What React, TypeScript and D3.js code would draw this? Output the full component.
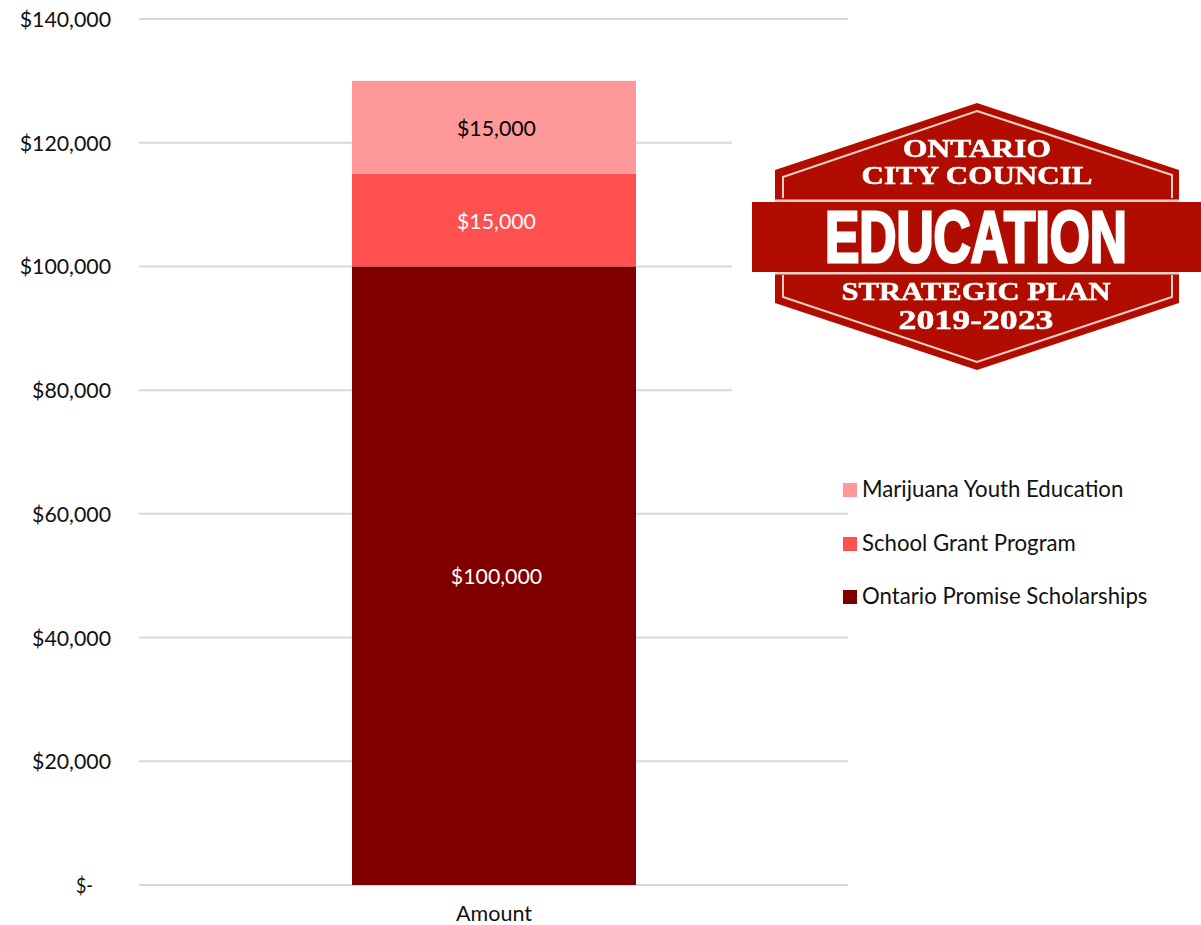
import React from 'react';
import * as d3 from 'd3';

const categories = ['Amount'];
const seriesNames = ['Ontario Promise Scholarships', 'School Grant Program', 'Marijuana Youth Education'];
const seriesValues = [100000, 15000, 15000];
const seriesColors = ['#800000', '#FF5050', '#FF9999'];
const labelColors = ['#FFFFFF', '#FFFFFF', '#000000'];
const yTicks = [0, 20000, 40000, 60000, 80000, 100000, 120000, 140000];
const legendOrder = [2, 1, 0];
const legendY = [491, 545, 598];

const FONT = 'Lato, "Open Sans", sans-serif';
const SERIF = '"Liberation Serif", serif';
const LOGO_RED = '#B01000';
const LOGO_LINE = '#F2CFC8';

const y = d3.scaleLinear().domain([0, 140000]).range([885, 19]);
const x = d3.scaleBand().domain(categories).range([139, 849]).paddingInner(0.6).paddingOuter(0.3);

const row: Record<string, number> = { Amount: 0 };
seriesNames.forEach((n, i) => { row[n] = seriesValues[i]; });
const stacked = d3.stack<Record<string, number>>().keys(seriesNames)([row]);

const fmt = d3.format(',');
const tickLabel = (v: number) => (v === 0 ? '$-' : '$' + fmt(v));

const line = d3.line();

function Logo() {
  const outer: [number, number][] = [[977, 103], [1179, 170], [1179, 303], [977, 370], [775, 303], [775, 170]];
  const inner: [number, number][] = [[977, 111], [1172, 175], [1172, 297], [977, 362], [783, 297], [783, 177]];
  const text = (s: string, cx: number, base: number, w: number, size: number) => (
    <text x={cx} y={base} textAnchor="middle" fontFamily={SERIF} fontWeight="bold" fontSize={size}
      fill="#FFFFFF" stroke="#FFFFFF" strokeWidth={0.5} textLength={w} lengthAdjust="spacingAndGlyphs">{s}</text>
  );
  return (
    <g filter="url(#soft)">
      <path d={line(outer) + 'Z'} fill={LOGO_RED} />
      <path d={line(inner) + 'Z'} fill="none" stroke={LOGO_LINE} strokeWidth={2} />
      <rect x={775} y={198} width={404} height={77} fill={LOGO_RED} />
      <rect x={775} y={199.5} width={404} height={75} fill={LOGO_LINE} />
      <rect x={752} y={202} width={449} height={70} fill={LOGO_RED} />
      {text('ONTARIO', 977, 157, 148, 26)}
      {text('CITY COUNCIL', 977, 184, 231, 26)}
      <g transform="translate(976,262) scale(0.705,1)">
        <text textAnchor="middle" fontFamily='"Liberation Sans", sans-serif' fontWeight="bold"
          fontSize={73} fill="#FFFFFF" stroke="#FFFFFF" strokeWidth={3}>EDUCATION</text>
      </g>
      {text('STRATEGIC PLAN', 976, 300, 269, 26)}
      {text('2019-2023', 976, 329, 155, 28)}
    </g>
  );
}

export default function App() {
  return (
    <svg width={1201} height={925} style={{ position: 'absolute', left: 0, top: 0, background: '#fff' }}>
      <defs>
        <filter id="soft" x="0" y="0" width="1" height="1">
          <feGaussianBlur stdDeviation="0.6" />
        </filter>
      </defs>
      {yTicks.map((t) => (
        <g key={t}>
          <line x1={139} x2={848} y1={y(t)} y2={y(t)} stroke="#D9D9D9" strokeWidth={2} />
          {t === 0 ? (
            <text x={76} y={y(t) + 8} fontFamily={FONT} fontSize={21.5} fill="#111" textLength={17}
              lengthAdjust="spacingAndGlyphs">{tickLabel(t)}</text>
          ) : (
            <text x={111} y={y(t) + 8} textAnchor="end" fontFamily={FONT} fontSize={21.3} fill="#111">{tickLabel(t)}</text>
          )}
        </g>
      ))}
      {/* logo image has a white box that hides the grid behind it */}
      <rect x={732} y={100} width={469} height={300} fill="#fff" />
      {stacked.map((s, i) => (
        <g key={s.key}>
          <rect x={x('Amount')} width={x.bandwidth()} y={y(s[0][1])} height={y(s[0][0]) - y(s[0][1])} fill={seriesColors[i]} />
          <text x={x('Amount')! + x.bandwidth() / 2 + 2.5} y={(y(s[0][0]) + y(s[0][1])) / 2 + 8.5} textAnchor="middle"
            fontFamily={FONT} fontSize={21.3} fill={labelColors[i]}>{'$' + fmt(seriesValues[i])}</text>
        </g>
      ))}
      <text x={494} y={920.5} textAnchor="middle" fontFamily={FONT} fontSize={21.5} fill="#111">{categories[0]}</text>
      <Logo />
      {legendOrder.map((idx, i) => (
        <g key={idx}>
          <rect x={843} y={legendY[i] - 8} width={14} height={14} fill={seriesColors[idx]} />
          <text x={862} y={legendY[i] + 6} fontFamily={FONT} fontSize={22.2} fill="#111">{seriesNames[idx]}</text>
        </g>
      ))}
    </svg>
  );
}
